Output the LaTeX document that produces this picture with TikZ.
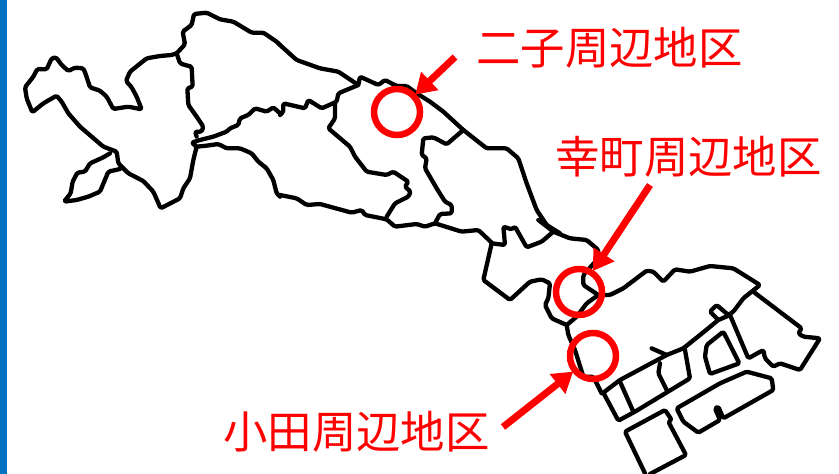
\documentclass[tikz,border=0pt]{standalone}
\usepackage{fontspec}
\newfontfamily\jpfont{Noto Sans CJK JP}
\usetikzlibrary{arrows.meta}
\definecolor{barblue}{RGB}{0,112,192}
\definecolor{markred}{RGB}{255,0,0}
\tikzset{
  mapline/.style={draw=black,line width=4.3pt,line join=round,line cap=round,rounded corners=1.5pt},
  ring/.style={circle,draw=markred,line width=6.5pt,minimum size=46pt,inner sep=0pt,outer sep=3.2pt},
  placelabel/.style={text=markred,font=\jpfont\fontsize{44.4}{44.4}\selectfont,inner sep=0pt},
  pointer/.style={draw=markred,line width=7pt,-{Triangle[length=20pt,width=24pt]},shorten >=-1pt},
  zoomA/.style={x=0.33333pt,y=-0.33333pt},
  zoomB/.style={x=0.33333pt,y=-0.33333pt,shift={(280pt,-60pt)}},
  zoomC/.style={x=0.33333pt,y=-0.33333pt,shift={(470pt,-220pt)}}
}
\begin{document}
\begin{tikzpicture}[x=1pt,y=-1pt]
\useasboundingbox (0,0) rectangle (839,474);
\fill[barblue] (0,0) rectangle (7,474);
% western part of the map
\begin{scope}[zoomA]
\draw[mapline] (530,160)--(515,165)--(480,168)--(440,175)--(415,195)--(390,215)--(378,243)--(395,262)--(410,290)--(425,328)--(385,320)--(340,327)--(320,290)--(300,272)--(270,262)--(258,225)--(250,205)--(225,203)--(205,213)--(185,195)--(168,172)--(155,175)--(140,208)--(112,207)--(100,230)--(75,262)--(80,295)--(97,337)--(130,310)--(170,287)--(185,305)--(205,340)--(240,380)--(275,410)--(310,440)--(350,455)--(355,490)--(385,520)--(430,543)--(460,575)--(482,625)--(540,595)--(550,565)--(570,535)--(580,480)--(590,440)--(575,428)--(600,420)--(640,410)--(680,395)--(690,385)--(715,375)--(720,355)--(745,345)--(765,325)--(800,335)--(820,322)--(840,340);
\draw[mapline] (530,160)--(540,190)--(555,195)--(575,200)--(578,260)--(562,265)--(565,315)--(590,350)--(610,380)--(605,395)--(585,395)--(590,410);
\draw[mapline] (590,440)--(620,437)--(655,432)--(680,445)--(720,445)--(755,460)--(775,485)--(800,505)--(820,540)--(830,580)--(840,590);
\draw[mapline] (330,460)--(310,472)--(270,490)--(255,515)--(232,518)--(218,545)--(212,580)--(192,605)--(230,600)--(265,590)--(300,575)--(325,515)--(360,507);
\draw[mapline] (530,160)--(555,133)--(548,95)--(575,75)--(582,42)--(620,38)--(660,58)--(700,65)--(755,98)--(790,98)--(830,125)--(840,135);
\end{scope}
% central part of the map
\begin{scope}[zoomB]
\draw[mapline] (0,-45)--(50,0)--(120,25)--(175,35)--(235,75)--(240,50)--(295,75)--(315,60)--(350,78)--(380,78)--(410,100)--(450,125)--(490,155)--(550,210)--(620,265)--(680,265)--(715,295)--(740,370)--(770,450)--(800,495)--(840,520);
\draw[mapline] (235,75)--(175,100)--(170,125)--(125,145)--(85,120)--(75,145)--(10,130)--(10,155)--(0,165);
\draw[mapline] (165,130)--(165,175)--(145,205)--(210,260)--(225,290)--(260,335)--(320,345)--(340,335)--(385,365)--(375,380)--(392,395)--(385,410)--(345,430)--(320,470);
\draw[mapline] (0,405)--(50,415)--(80,435)--(120,432)--(215,458)--(245,450)--(255,465)--(320,478)--(345,500)--(410,492)--(435,500)--(465,490)--(545,515)--(595,510)--(635,548);
\draw[mapline] (550,210)--(500,253)--(460,232)--(430,235)--(425,285)--(440,295)--(435,325)--(470,385)--(495,425)--(515,435)--(515,460)--(480,462)--(465,490);
\end{scope}
% eastern part of the map
\begin{scope}[zoomC]
\draw[mapline] (65,70)--(105,75)--(100,20)--(125,28)--(135,20)--(170,82)--(215,65)--(250,35);
\draw[mapline] (205,0)--(250,35)--(300,55)--(350,60)--(385,90)--(385,115)--(340,165)--(340,195)--(385,225)--(350,250)--(320,290)--(290,315)--(295,345)--(315,390)--(340,470)--(370,470)--(395,520);
\draw[mapline] (65,70)--(40,180)--(120,240)--(180,185)--(215,178)--(240,190)--(235,235)--(225,255)--(245,295)--(290,315);
\draw[mapline] (385,225)--(420,225)--(460,205)--(530,152)--(550,155)--(580,185)--(615,148)--(660,155)--(720,138)--(790,145)--(870,195)--(820,235)--(790,275)--(775,285)--(740,255)--(720,275)--(745,300)--(690,345)--(640,385)--(590,405)--(545,385);
\draw[mapline] (590,405)--(450,480)--(400,518)--(445,602)--(495,575)--(660,475)--(645,390);
\draw[mapline] (570,430)--(565,460)--(590,510);
\draw[mapline] (450,485)--(490,575);
\draw[mapline] (745,300)--(780,285)--(835,415)--(880,390)--(885,415)--(910,440)--(930,430)--(990,450)--(1050,355)--(1000,350)--(985,340)--(995,325)--(850,215);
\draw[mapline] (760,335)--(710,375)--(705,410)--(720,462)--(808,430)--cycle;
\draw[mapline] (620,565)--(640,605)--(685,638)--(750,600)--(735,565)--(745,560)--(760,595)--(910,510)--(905,475)--(830,455)--(750,490)--cycle;
\draw[mapline] (525,760)--(465,635)--(585,570)--(605,600)--(595,605)--(648,705)--(540,762);
\end{scope}
% markers and labels
\node[ring] (futako) at (397,112) {};
\node[ring] (saiwai) at (579,292) {};
\node[ring] (oda) at (593,356) {};
\node[placelabel,anchor=west] (futakolabel) at (476,48) {二子周辺地区};
\node[placelabel,anchor=west] (saiwailabel) at (555,157) {幸町周辺地区};
\node[placelabel,anchor=west] (odalabel) at (223,432) {小田周辺地区};
\coordinate (futakotail) at (455,57);
\coordinate (saiwaitail) at (650,185);
\coordinate (odatail) at (503,427);
\draw[pointer] (futakotail) -- (futako);
\draw[pointer] (saiwaitail) -- (saiwai);
\draw[pointer] (odatail) -- (oda);
\end{tikzpicture}
\end{document}
